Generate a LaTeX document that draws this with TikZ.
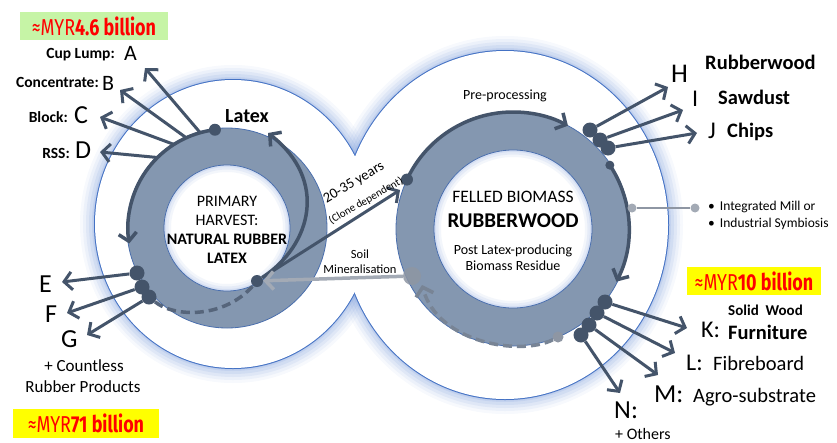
\documentclass[tikz,border=0pt]{standalone}
\usepackage{fontspec}
\setmainfont{Carlito}
\newfontfamily\agency[FakeStretch=0.78]{Fira Sans}
\usetikzlibrary{arrows.meta,calc}

\definecolor{dk}{HTML}{44546A}
\definecolor{ringc}{HTML}{8497B0}
\definecolor{ringedge}{HTML}{4A6FAE}
\definecolor{lobeedge}{HTML}{4472C4}
\definecolor{glowc}{HTML}{6F93D6}
\definecolor{softgray}{HTML}{A3AAB5}
\definecolor{dotgray}{HTML}{8E96A3}
\definecolor{dashc}{HTML}{56657B}
\definecolor{boxgreen}{RGB}{198,244,166}
\definecolor{boxyellow}{RGB}{255,255,0}
\definecolor{moneyred}{RGB}{255,0,0}

\newcommand\fsz[1]{\fontsize{#1}{#1}\selectfont}

\begin{document}
\begin{tikzpicture}[x=1pt,y=1pt,
  tipstyle/.style={-{Straight Barb[length=8pt,width=18pt]}},
  arr/.style={draw=dk, line width=3pt, tipstyle},
  flow/.style={draw=dk, line width=3.5pt, tipstyle},
  dashline/.style={draw=dashc, line width=3.5pt, dash pattern=on 9pt off 5pt},
  bigdot/.style={circle, fill=dk, inner sep=0pt, minimum size=15pt},
  dot/.style={circle, fill=dk, inner sep=0pt, minimum size=12pt},
  smalldot/.style={circle, fill=dk, inner sep=0pt, minimum size=9pt},
  graydot/.style={circle, fill=dotgray, inner sep=0pt, minimum size=9pt},
  txt/.style={inner sep=0pt, text=black},
  moneybox/.style={inner sep=0pt, text=moneyred, font=\agency\fsz{23}},
  lobeL/.style={x radius=138pt, y radius=144pt},
  lobeR/.style={x radius=163pt, y radius=174pt},
]
\useasboundingbox (0,0) rectangle (837,-442);

% centres of the two lobes and the two rings
\coordinate (C1) at (233,-224);
\coordinate (C2) at (505,-225);
\coordinate (L) at (227,-228);
\coordinate (R) at (513,-229);

% soft blue halo around the figure-of-eight
\foreach \w/\o in {30/0.06,24/0.08,18/0.1,12/0.12,6/0.15,3/0.2} {
  \draw[glowc, line width=\w pt, opacity=\o] (C1) ellipse[lobeL];
  \draw[glowc, line width=\w pt, opacity=\o] (C2) ellipse[lobeR];
}
\draw[lobeedge, line width=2pt] (C1) ellipse[lobeL];
\draw[lobeedge, line width=2pt] (C2) ellipse[lobeR];
\fill[white] (C1) ellipse[lobeL];
\fill[white] (C2) ellipse[lobeR];

% the two rings
\fill[ringc] (L) circle[radius=100pt];
\draw[ringedge, line width=0.8pt] (L) circle[radius=100pt];
\fill[white] (L) circle[radius=63pt];
\begin{scope}
  \clip (L) circle[radius=63pt];
  \foreach \w/\o in {14/0.08,9/0.1,4/0.14}
    \draw[glowc, line width=\w pt, opacity=\o] (L) circle[radius=63pt];
\end{scope}
\draw[ringedge, line width=0.8pt] (L) circle[radius=63pt];

\fill[ringc] (R) circle[radius=117pt];
\draw[ringedge, line width=0.8pt] (R) circle[radius=117pt];
\fill[white] (R) circle[radius=79pt];
\begin{scope}
  \clip (R) circle[radius=79pt];
  \foreach \w/\o in {14/0.08,9/0.1,4/0.14}
    \draw[glowc, line width=\w pt, opacity=\o] (R) circle[radius=79pt];
\end{scope}
\draw[ringedge, line width=0.8pt] (R) circle[radius=79pt];

% ---------- left ring: latex harvest ----------
\node[dot] (latexdot) at ($(L)+(97:99pt)$) {};
\draw[flow] (latexdot.center) arc[start angle=97, end angle=189, radius=99pt];

\foreach \n/\a in {A/105.7,B/114.3,C/122.4,D/134.6}
  \coordinate (s\n) at ($(L)+(\a:99pt)$);
\coordinate (tA) at (145,-68);
\coordinate (tB) at (120,-90);
\coordinate (tC) at (100,-117);
\coordinate (tD) at (100,-152);
\draw[arr] (sA) -- (tA);
\draw[arr] (sB) -- (tB);
\draw[arr] (sC) -- (tC);
\draw[arr] (sD) -- (tD);

\node[dot] (m1) at (257,-281) {};
\node[bigdot] (dE) at (137,-273) {};
\node[bigdot] (dF) at (142,-287) {};
\node[bigdot] (dG) at (149,-297) {};
\coordinate (tE) at (62,-282);
\coordinate (tF) at (67,-313);
\coordinate (tG) at (87,-335);
\draw[arr] (dE) -- (tE);
\draw[arr] (dF) -- (tF);
\draw[arr] (dG) -- (tG);
\draw[dashline] (dG) .. controls (175,-318) and (225,-318) .. (m1);

\coordinate (tUp) at (268,-133);
\draw[flow] (m1) .. controls (312,-245) and (328,-180) .. (tUp);

% ---------- right ring: felled biomass ----------
\node[dot] (p1) at ($(R)+(155:117pt)$) {};
\coordinate (tYears) at (400,-190);
\draw[arr] (m1) -- (tYears);
\draw[flow] (p1.center) arc[start angle=155, end angle=62, radius=117pt];

\node[smalldot] (q1) at ($(R)+(33.4:116pt)$) {};
\draw[flow] (q1.center) arc[start angle=33.4, end angle=-27, radius=116pt];

\coordinate (tH) at (668,-87);
\coordinate (tI) at (683,-110);
\coordinate (tJ) at (697,-133);
\node[bigdot] (dH) at (590,-130) {};
\node[bigdot] (dI) at (600,-140) {};
\node[bigdot] (dJ) at (608,-148) {};
\draw[arr] (dH) -- (tH);
\draw[arr] (dI) -- (tI);
\draw[arr] (dJ) -- (tJ);

\coordinate (tK) at (687,-328);
\coordinate (tL) at (675,-353);
\coordinate (tM) at (658,-375);
\coordinate (tN) at (620,-393);
\node[bigdot] (dK) at (605,-302) {};
\node[bigdot] (dL) at (597,-313) {};
\node[bigdot] (dM) at (589,-325) {};
\node[bigdot] (dN) at (581,-335) {};
\draw[arr] (dK) -- (tK);
\draw[arr] (dL) -- (tL);
\draw[arr] (dM) -- (tM);
\draw[arr] (dN) -- (tN);

% residue returning to the soil
\node[graydot, minimum size=11pt] (r1) at (558,-337) {};
\coordinate (tSoil) at (422,-285);
\draw[dashline, draw=dashc!80, tipstyle] (r1) .. controls (522,-356) and (438,-344) .. (tSoil);
\node[circle, fill=dotgray, opacity=0.85, inner sep=0pt, minimum size=18pt] (soil) at (412,-276) {};
\draw[softgray, line width=3.5pt, tipstyle] (soil) -- (m1);

% integrated mill link
\node[graydot, fill=softgray] (g1) at (632,-208) {};
\node[graydot, fill=softgray] (g2) at (695,-208) {};
\draw[dotgray, line width=1.8pt] (g1) -- (g2);

% ---------- texts ----------
\node[txt, anchor=base] (t1) at (227,-206) {\fsz{16}PRIMARY};
\node[txt, anchor=base] (t2) at (227,-225) {\fsz{16}HARVEST:};
\node[txt, anchor=base] (t3) at (227,-244) {\fsz{16}\bfseries NATURAL RUBBER};
\node[txt, anchor=base] (t4) at (227,-263) {\fsz{16}\bfseries LATEX};

\node[txt, anchor=base] (u1) at (513,-202) {\fsz{17.5}FELLED BIOMASS};
\node[txt, anchor=base] (u2) at (513,-227) {\fsz{21}\bfseries RUBBERWOOD};
\node[txt, anchor=base] (u3) at (513,-254) {\fsz{14}Post Latex-producing};
\node[txt, anchor=base] (u4) at (513,-270) {\fsz{14}Biomass Residue};

\node[txt, anchor=base] (latex) at (247,-122) {\fsz{20}\bfseries Latex};
\node[txt, anchor=base] (prep) at (505,-99) {\fsz{14}Pre-processing};
\node[txt, anchor=base] (soil1) at (360,-258) {\fsz{12.5}Soil};
\node[txt, anchor=base] (soil2) at (360,-273) {\fsz{12.5}Mineralisation};
\node[txt, rotate=31] (yrs) at (354,-183) {\fsz{14.5}20-35 years};
\node[txt, rotate=30] (clone) at (366,-201) {\fsz{11}(Clone dependent)};

\node[txt, anchor=base west] (mill1) at (708,-210) {\fsz{13.5}•\hspace{5pt}Integrated Mill or};
\node[txt, anchor=base west] (mill2) at (708,-227) {\fsz{13.5}•\hspace{5pt}Industrial Symbiosis};

% left labels
\node[txt, anchor=base east] (lA) at (115,-58) {\fsz{15.5}\bfseries Cup Lump:};
\node[txt, anchor=base west] (A) at (124,-60) {\fsz{22}A};
\node[txt, anchor=base east] (lB) at (99,-87) {\fsz{15.5}\bfseries Concentrate:};
\node[txt, anchor=base west] (B) at (102,-90) {\fsz{22}B};
\node[txt, anchor=base east] (lC) at (68,-122) {\fsz{15.5}\bfseries Block:};
\node[txt, anchor=base west] (C) at (74,-123) {\fsz{26}C};
\node[txt, anchor=base east] (lD) at (70,-158) {\fsz{15.5}\bfseries RSS:};
\node[txt, anchor=base west] (D) at (75,-158) {\fsz{26}D};
\node[txt, anchor=base west] (E) at (39,-292) {\fsz{26}E};
\node[txt, anchor=base west] (F) at (45,-322) {\fsz{26}F};
\node[txt, anchor=base west] (G) at (61,-347) {\fsz{26}G};
\node[txt, anchor=base] (cnt1) at (84,-371) {\fsz{17}+ Countless};
\node[txt, anchor=base] (cnt2) at (83,-392) {\fsz{17}Rubber Products};

% right labels
\node[txt, anchor=base west] (H) at (671,-82) {\fsz{27}H};
\node[txt, anchor=base west] (hw) at (705,-69) {\fsz{20.5}\bfseries Rubberwood};
\node[txt, anchor=base west] (I) at (692,-106) {\fsz{24}I};
\node[txt, anchor=base west] (iw) at (718,-104) {\fsz{20.5}\bfseries Sawdust};
\node[txt, anchor=base west] (J) at (708,-138) {\fsz{24}J};
\node[txt, anchor=base west] (jw) at (727,-137) {\fsz{20.5}\bfseries Chips};
\node[txt, anchor=base west] (K) at (701,-337) {\fsz{24}K:};
\node[txt, anchor=base west] (kw1) at (728,-315) {\fsz{15}\bfseries Solid\ \ Wood};
\node[txt, anchor=base west] (kw2) at (728,-339) {\fsz{20.5}\bfseries Furniture};
\node[txt, anchor=base west] (Lb) at (686,-370) {\fsz{24}L:};
\node[txt, anchor=base west] (lw) at (713,-370) {\fsz{20.5}Fibreboard};
\node[txt, anchor=base west] (M) at (654,-402) {\fsz{26}M:};
\node[txt, anchor=base west] (mw) at (693,-402) {\fsz{20.5}Agro-substrate};
\node[txt, anchor=base west] (N) at (614,-418) {\fsz{26}N:};
\node[txt, anchor=base west] (nw) at (615,-439) {\fsz{16}+ Others};

% market values
\node[moneybox, fill=boxgreen, minimum width=148pt, minimum height=28pt] (v46) at (94,-26) {≈MYR\textbf{4.6 billion}};
\node[moneybox, fill=boxyellow, minimum width=146pt, minimum height=29pt] (v71) at (86,-423.5) {≈MYR\textbf{71 billion}};
\node[moneybox, fill=boxyellow, minimum width=134pt, minimum height=28pt] (v10) at (754,-281) {≈MYR\textbf{10 billion}};
\end{tikzpicture}
\end{document}
